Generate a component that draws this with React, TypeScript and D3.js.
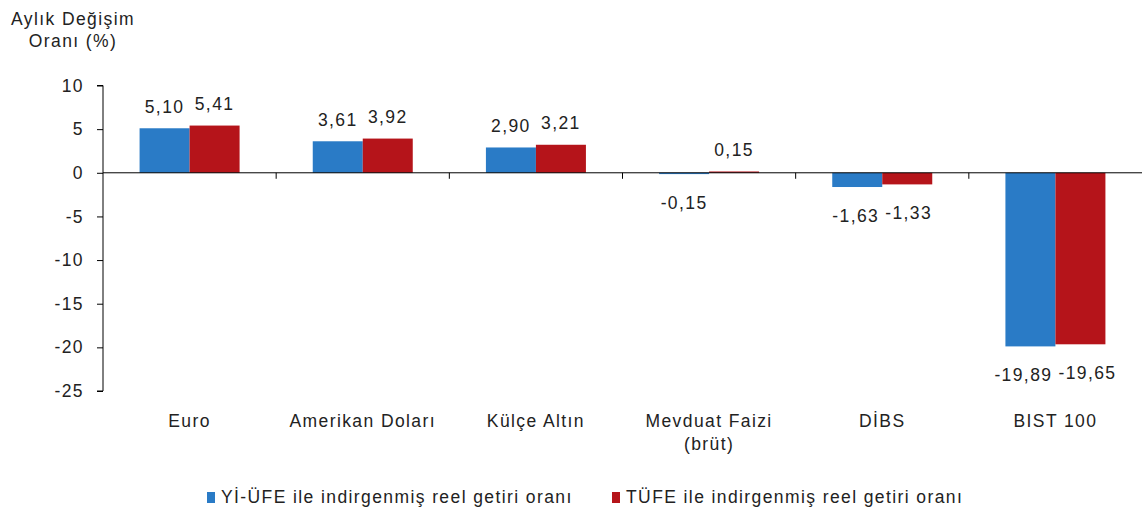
import React, { useEffect, useRef } from 'react';
import * as d3 from 'd3';

const categories = ['Euro', 'Amerikan Doları', 'Külçe Altın', 'Mevduat Faizi\n(brüt)', 'DİBS', 'BIST 100'];
const yiUfe = [5.10, 3.61, 2.90, -0.15, -1.63, -19.89];
const tufe = [5.41, 3.92, 3.21, 0.15, -1.33, -19.65];
const seriesNames = ['Yİ-ÜFE ile indirgenmiş reel getiri oranı', 'TÜFE ile indirgenmiş reel getiri oranı'];
const yTicks = [10, 5, 0, -5, -10, -15, -20, -25];

const colors = ['#2a7bc6', '#b5141a'];
const W = 1146;
const H = 518;

const fmt = (v: number) => v.toFixed(2).replace('.', ',');

const App: React.FC = () => {
  const svgRef = useRef<SVGSVGElement | null>(null);

  useEffect(() => {
    document.body.style.margin = '0';
    const svg = d3.select(svgRef.current);
    svg.selectAll('*').remove();

    const left = 103;
    const right = 1142;
    const font = 'Liberation Sans, Arial, sans-serif';
    const fs = 17.5;
    const ls = 1.4;

    const txt = (sel: any) => sel
      .attr('font-family', font)
      .attr('font-size', fs)
      .attr('letter-spacing', ls)
      .attr('fill', '#222');

    const y = d3.scaleLinear().domain([-25, 10]).range([391, 85.5]);
    const x0 = d3.scaleBand<number>().domain(d3.range(categories.length)).range([left, right]);
    const bw = 50;

    // title
    const title = svg.append('text').attr('text-anchor', 'middle').call(txt);
    title.append('tspan').attr('x', 73).attr('y', 25).text('Aylık Değişim');
    title.append('tspan').attr('x', 73).attr('y', 47).text('Oranı (%)');

    // y axis
    const yAxis = svg.append('g').attr('transform', `translate(${left},0)`)
      .call(d3.axisLeft(y).tickValues(yTicks).tickSize(6).tickFormat((d) => String(d)));
    yAxis.select('.domain').attr('stroke', '#000').attr('d', `M-6,${y(10)}H0V${y(-25)}H-6`);
    yAxis.selectAll('line').attr('stroke', '#000');
    yAxis.selectAll('text').call(txt).attr('x', -19);

    // bars + value labels
    const series = [yiUfe, tufe];
    const labelNodes: SVGTextElement[][] = [];
    series.forEach((vals, si) => {
      svg.append('g').selectAll('rect')
        .data(vals)
        .join('rect')
        .attr('x', (_, i) => x0(i)! + x0.bandwidth() / 2 - bw + si * bw)
        .attr('width', bw)
        .attr('y', (d) => y(Math.max(0, d)))
        .attr('height', (d) => Math.abs(y(d) - y(0)))
        .attr('fill', colors[si]);

      const labels = svg.append('g').selectAll('text')
        .data(vals)
        .join('text')
        .attr('x', (_, i) => x0(i)! + x0.bandwidth() / 2 - bw / 2 + si * bw)
        .attr('y', (d) => (d >= 0 ? y(d) - 15.5 : y(d) + 35))
        .attr('text-anchor', 'middle')
        .call(txt)
        .text((d) => fmt(d));
      labelNodes.push(labels.nodes() as SVGTextElement[]);
    });

    // push apart neighbouring labels that collide
    categories.forEach((_, i) => {
      const a = labelNodes[0][i];
      const b = labelNodes[1][i];
      const ba = a.getBBox();
      const bb = b.getBBox();
      const vOverlap = ba.y < bb.y + bb.height && bb.y < ba.y + ba.height;
      const gap = bb.x - (ba.x + ba.width);
      if (vOverlap && gap < 6) {
        const shift = (6 - gap) / 2;
        a.setAttribute('x', String(+a.getAttribute('x')! - shift));
        b.setAttribute('x', String(+b.getAttribute('x')! + shift));
      }
    });

    // x axis at zero
    const xAxis = svg.append('g');
    xAxis.append('line').attr('x1', left).attr('x2', right).attr('y1', y(0)).attr('y2', y(0)).attr('stroke', '#000');
    xAxis.selectAll('line.tick')
      .data(d3.range(1, categories.length))
      .join('line')
      .attr('class', 'tick')
      .attr('x1', (i) => x0(i)!)
      .attr('x2', (i) => x0(i)!)
      .attr('y1', y(0))
      .attr('y2', y(0) + 6)
      .attr('stroke', '#000');

    // category labels
    svg.append('g').selectAll('text')
      .data(categories)
      .join('text')
      .call(txt)
      .attr('text-anchor', 'middle')
      .each(function (d, i) {
        const t = d3.select(this);
        d.split('\n').forEach((line, li) => {
          t.append('tspan').attr('x', x0(i)! + x0.bandwidth() / 2).attr('y', 427 + li * 23).text(line);
        });
      });

    // legend
    const legX = [207, 612];
    const leg = svg.append('g');
    seriesNames.forEach((name, i) => {
      leg.append('rect').attr('x', legX[i]).attr('y', 492).attr('width', 8).attr('height', 11).attr('fill', colors[i]);
      leg.append('text').attr('x', legX[i] + 14).attr('y', 503).call(txt).text(name);
    });
  }, []);

  return <svg ref={svgRef} width={W} height={H} style={{ display: 'block', background: '#fff' }} />;
};

export default App;
